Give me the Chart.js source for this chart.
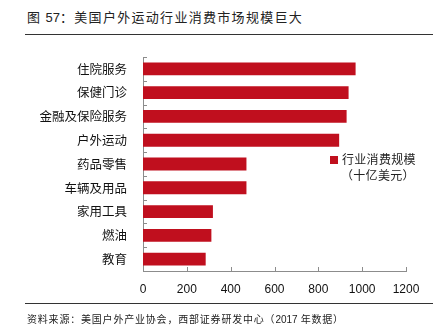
<!DOCTYPE html>
<html>
<head>
<meta charset="utf-8">
<script src="https://cdn.jsdelivr.net/npm/chart.js@4/dist/chart.umd.min.js"></script>
<style>
  html, body { margin: 0; padding: 0; background: #fff; }
  #wrap { position: relative; width: 437px; height: 336px; overflow: hidden; font-family: "Noto Sans CJK SC", sans-serif; }
  #title { position: absolute; left: 27px; top: 7px; font-size: 13px; letter-spacing: 1.3px; color: #222; white-space: nowrap; }
  #title .num { font-family: "Liberation Sans", Arial, sans-serif; letter-spacing: 0; }
  .rule { position: absolute; left: 25px; width: 408px; height: 0; border-top: 1.5px solid #333; }
  #source { position: absolute; left: 27px; top: 311px; font-size: 10px; letter-spacing: 0.8px; color: #222; white-space: nowrap; }
  #source .num { font-family: "Liberation Sans", Arial, sans-serif; letter-spacing: 0; }
  #legend { position: absolute; left: 330px; top: 151px; font-size: 12px; letter-spacing: 0.3px; color: #222; line-height: 16px; }
  #legend .box { display: inline-block; width: 8px; height: 8px; background: #c00f1e; margin-right: 4px; vertical-align: 0px; }
  #legend .l2 { padding-left: 11px; }
  #chartBox { position: absolute; left: 0; top: 0; width: 437px; height: 336px; }
</style>
</head>
<body>
<div id="wrap">
  <div id="title">图 <span class="num">57</span>：美国户外运动行业消费市场规模巨大</div>
  <div class="rule" style="top:34px"></div>
  <div id="chartBox"><canvas id="mainChart"></canvas></div>
  <div id="legend"><span class="box"></span>行业消费规模<br><span class="l2">（十亿美元）</span></div>
  <div class="rule" style="top:303px"></div>
  <div id="source">资料来源：美国户外产业协会，西部证券研发中心（<span class="num">2017</span> 年数据）</div>
</div>
<script>
const categories = ['住院服务', '保健门诊', '金融及保险服务', '户外运动', '药品零售', '车辆及用品', '家用工具', '燃油', '教育'];
const spending = [970, 938, 929, 895, 472, 472, 319, 312, 286];
const xTicks = [0, 200, 400, 600, 800, 1000, 1200];

const AXIS_COLOR = '#8c8c8c';

// small tick marks pointing into the plot, like the printed report style
const innerTicks = {
    id: 'innerTicks',
    afterDraw(chart) {
        const c = chart.ctx, area = chart.chartArea;
        const xs = chart.scales.x, ys = chart.scales.y;
        c.save();
        c.strokeStyle = AXIS_COLOR;
        c.lineWidth = 1;
        c.beginPath();
        xs.ticks.forEach(t => {
            const px = Math.round(xs.getPixelForValue(t.value)) + 0.5;
            c.moveTo(px, area.bottom);
            c.lineTo(px, area.bottom - 4);
        });
        for (let i = 0; i < categories.length; i++) {
            const py = Math.round(ys.getPixelForValue(i - 0.5)) + 0.5;
            c.moveTo(area.left, py);
            c.lineTo(area.left + 4, py);
        }
        c.stroke();
        c.restore();
    }
};

new Chart(document.getElementById('mainChart'), {
    type: 'bar',
    data: {
        labels: categories,
        datasets: [{
            label: '行业消费规模（十亿美元）',
            data: spending,
            backgroundColor: '#c00f1e',
            borderWidth: 0,
            barPercentage: 0.54,
            categoryPercentage: 1
        }]
    },
    options: {
        indexAxis: 'y',
        responsive: true,
        maintainAspectRatio: false,
        animation: false,
        layout: { padding: { top: 57, right: 31, bottom: 40, left: 0 } },
        scales: {
            x: {
                min: 0,
                max: 1200,
                afterBuildTicks: s => { s.ticks = xTicks.map(v => ({ value: v })); },
                grid: { display: false },
                border: { display: true, color: AXIS_COLOR, width: 1 },
                ticks: {
                    color: '#111',
                    padding: 3,
                    font: { family: 'Liberation Sans, Arial, sans-serif', size: 12 },
                    callback: v => String(v)
                },
                afterFit: s => { s.height = 25; }
            },
            y: {
                offset: true,
                grid: { display: false },
                border: { display: true, color: AXIS_COLOR, width: 1 },
                ticks: { color: '#111', padding: 8, font: { family: 'Noto Sans CJK SC', size: 12.5 } },
                afterFit: s => { s.width = 143; }
            }
        },
        plugins: {
            legend: { display: false },
            tooltip: { enabled: false }
        }
    },
    plugins: [innerTicks]
});
</script>
</body>
</html>
